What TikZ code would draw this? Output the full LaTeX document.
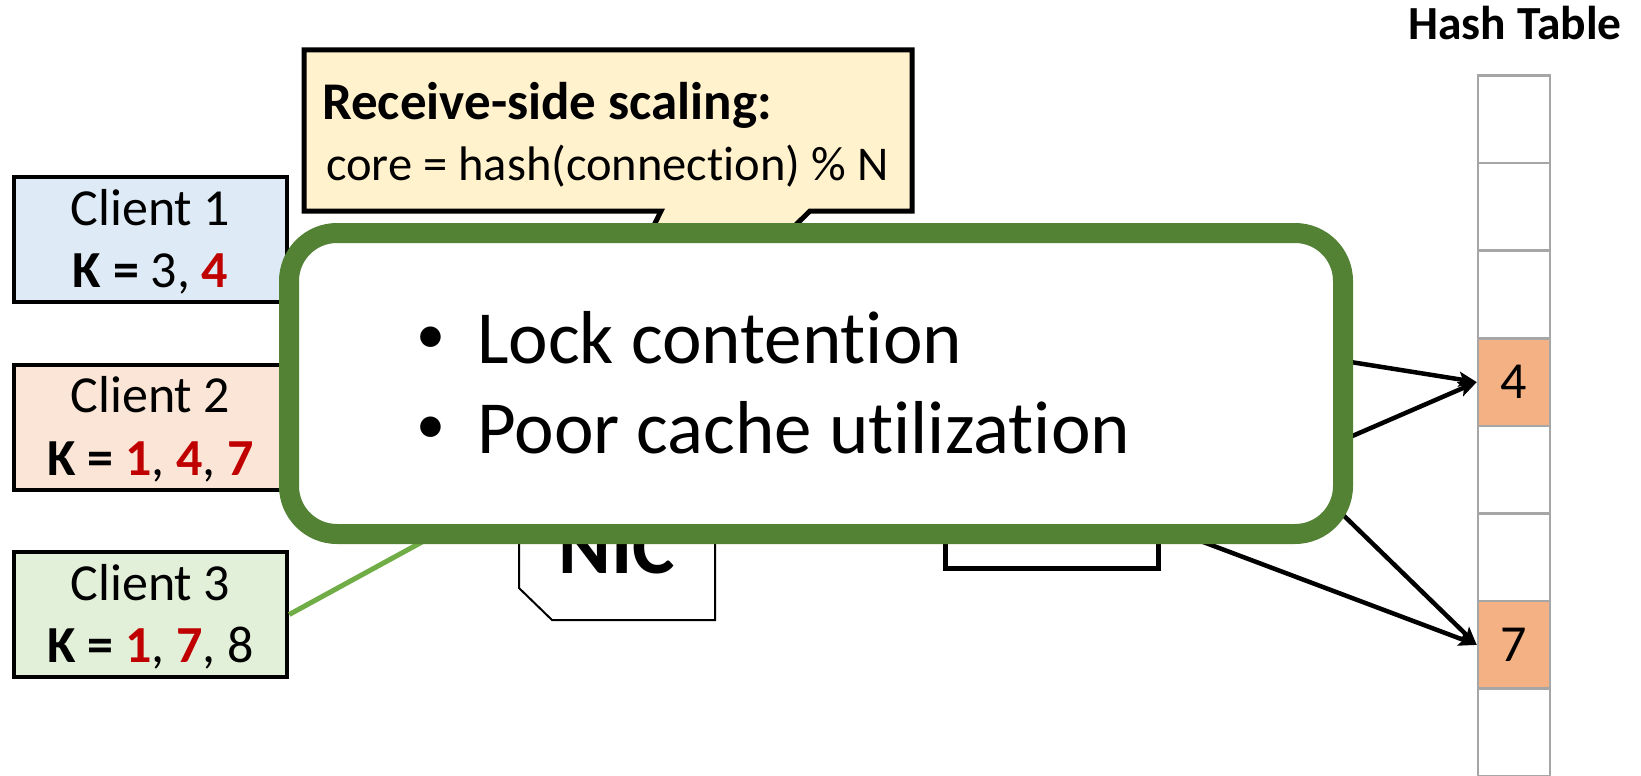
\documentclass[tikz,border=0pt]{standalone}
\usepackage{fontspec}
\setmainfont{Carlito}[Ligatures={NoCommon,NoRare,NoContextual}]
\usetikzlibrary{arrows.meta}

\definecolor{clientA}{HTML}{DEEBF7}
\definecolor{clientB}{HTML}{FBE5D6}
\definecolor{clientC}{HTML}{E2F0D9}
\definecolor{noteyellow}{HTML}{FFF2CC}
\definecolor{panelgreen}{HTML}{548235}
\definecolor{linkgreen}{HTML}{70AD47}
\definecolor{keyred}{HTML}{C00000}
\definecolor{slotorange}{HTML}{F4B183}
\definecolor{slotgray}{HTML}{A6A6A6}

\begin{document}
\begin{tikzpicture}[x=1pt,y=-1pt,
  client/.style={draw=black,line width=4.5pt,minimum width=273pt,minimum height=125pt,inner sep=0pt},
  ctext/.style={anchor=base,inner sep=0pt,font=\fontsize{52}{62}\selectfont},
  slot/.style={draw=slotgray,line width=2.5pt,minimum width=72pt,minimum height=87.6pt,inner sep=0pt,font=\fontsize{52}{60}\selectfont},
  ptr/.style={line width=4.5pt,-{Stealth[length=18pt,width=15pt,inset=4pt]}},
  bigtext/.style={inner sep=0pt,font=\fontsize{75}{90}\selectfont},
  bulletmark/.style={inner sep=0pt,anchor=base,font=\fontsize{58}{70}\selectfont},
]
\path[use as bounding box] (0,0) rectangle (1641,776);

% hash table column
\node[anchor=base,inner sep=0pt,font=\bfseries\fontsize{47.5}{56}\selectfont] (httitle) at (1515,40) {Hash Table};
\foreach \i/\f/\t in {1/white/,2/white/,3/white/,4/slotorange/4,5/white/,6/white/,7/slotorange/7,8/white/}{
  \node[slot,fill=\f] (h\i) at (1514,{75.5+87.6*(\i-0.5)}) {\t};
}

% clients
\node[client,fill=clientA] (c1) at (150.5,239.5) {};
\node[ctext] (c1name) at (150.5,225) {Client 1};
\node[ctext] (c1keys) at (150.5,287) {\textbf{K =} 3, \textbf{\color{keyred}4}};

\node[client,fill=clientB] (c2) at (150.5,427.5) {};
\node[ctext] (c2name) at (150.5,412) {Client 2};
\node[ctext] (c2keys) at (150.5,475) {\textbf{K =} \textbf{\color{keyred}1}, \textbf{\color{keyred}4}, \textbf{\color{keyred}7}};

\node[client,fill=clientC] (c3) at (150.5,614.5) {};
\node[ctext] (c3name) at (150.5,600) {Client 3};
\node[ctext] (c3keys) at (150.5,662) {\textbf{K =} \textbf{\color{keyred}1}, \textbf{\color{keyred}7}, 8};

% link from client 3 towards the NIC
\coordinate (nicport) at (519,489);
\draw[linkgreen,line width=5pt] (c3.east) -- (nicport);

% pointers into the hash table
\coordinate (a1) at (1200,338);
\coordinate (a2) at (1200,502);
\coordinate (a3) at (1158,525);
\coordinate (a4) at (1300,473);
\draw[ptr] (a1) -- (h4.west);
\draw[ptr] (a2) -- (h4.west);
\draw[ptr] (a3) -- (h7.west);
\draw[ptr] (a4) -- (h7.west);

% NIC and core box
\draw[line width=2pt,fill=white] (519,440) -- (715,440) -- (715,620) -- (552,620) -- (519,588) -- cycle;
\node[anchor=base,inner sep=0pt,font=\bfseries\fontsize{80}{96}\selectfont] (nic) at (617,573) {NIC};
\node[draw,line width=5pt,fill=white,minimum width=213pt,minimum height=128pt,inner sep=0pt] (core) at (1051.5,504) {};

% receive-side scaling callout
\draw[line width=5pt,fill=noteyellow,line join=miter] (304,50) -- (912,50) -- (912,211) -- (810,211) -- (526,487) -- (661,211) -- (304,211) -- cycle;
\node[anchor=base west,inner sep=0pt,font=\bfseries\fontsize{53}{62}\selectfont] (rsshead) at (322,119) {Receive-side scaling:};
\node[anchor=base west,inner sep=0pt,font=\fontsize{48.5}{58}\selectfont] (rssrule) at (326,180) {core = hash(connection) \% N};

% overlay panel
\node[draw=panelgreen,line width=20pt,fill=white,rounded corners=48pt,minimum width=1054pt,minimum height=301pt] (panel) at (816,383.5) {};
\node[bulletmark] (b1) at (431,353) {•};
\node[bigtext,anchor=base west] (p1) at (477,363) {Lock contention};
\node[bulletmark] (b2) at (431,443) {•};
\node[bigtext,anchor=base west] (p2) at (477,453) {Poor cache utilization};
\end{tikzpicture}
\end{document}
